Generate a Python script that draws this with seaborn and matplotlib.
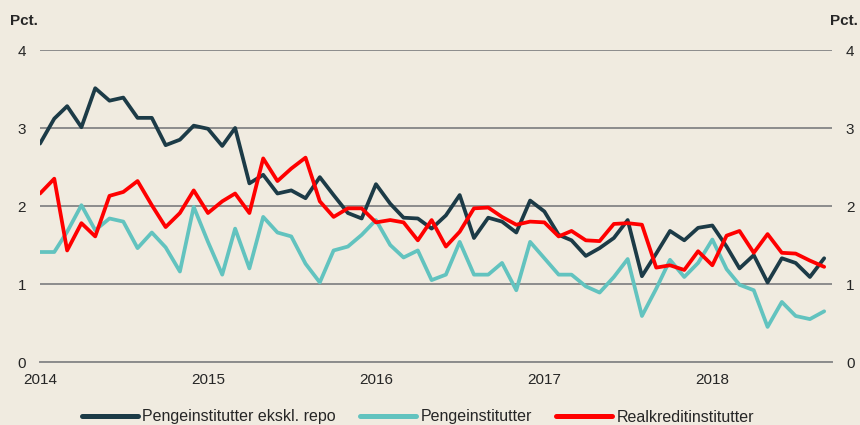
import pandas as pd
import matplotlib
matplotlib.use('Agg')
import matplotlib.pyplot as plt
import seaborn as sns

# Data (monthly, Jan 2014 - Sep 2018), pct.
months = pd.date_range('2014-01-01', periods=57, freq='MS')

ekskl_repo = [2.80, 3.12, 3.28, 3.01, 3.51, 3.35, 3.39, 3.13, 3.13, 2.78, 2.85, 3.03,
              2.99, 2.77, 3.00, 2.29, 2.40, 2.16, 2.20, 2.10, 2.37, 2.14, 1.91, 1.84,
              2.28, 2.03, 1.85, 1.84, 1.71, 1.88, 2.14, 1.59, 1.85, 1.80, 1.66, 2.07,
              1.93, 1.63, 1.56, 1.36, 1.46, 1.59, 1.82, 1.10, 1.39, 1.68, 1.56, 1.72,
              1.75, 1.48, 1.20, 1.37, 1.02, 1.33, 1.27, 1.09, 1.33]

penge = [1.41, 1.41, 1.67, 2.01, 1.69, 1.84, 1.80, 1.46, 1.66, 1.47, 1.16, 1.99,
         1.54, 1.12, 1.71, 1.20, 1.86, 1.66, 1.61, 1.26, 1.02, 1.43, 1.48, 1.63,
         1.82, 1.50, 1.34, 1.43, 1.05, 1.12, 1.54, 1.12, 1.12, 1.27, 0.92, 1.54,
         1.33, 1.12, 1.12, 0.97, 0.89, 1.09, 1.32, 0.59, 0.94, 1.31, 1.09, 1.27,
         1.57, 1.19, 0.99, 0.92, 0.45, 0.77, 0.59, 0.55, 0.65]

realkredit = [2.16, 2.35, 1.43, 1.78, 1.61, 2.13, 2.18, 2.32, 2.01, 1.73, 1.91, 2.20,
              1.91, 2.06, 2.16, 1.91, 2.61, 2.32, 2.48, 2.62, 2.06, 1.86, 1.97, 1.97,
              1.79, 1.82, 1.79, 1.56, 1.82, 1.48, 1.67, 1.97, 1.98, 1.86, 1.76, 1.80,
              1.79, 1.61, 1.68, 1.56, 1.55, 1.77, 1.78, 1.76, 1.21, 1.24, 1.18, 1.42,
              1.24, 1.62, 1.68, 1.40, 1.64, 1.40, 1.39, 1.30, 1.22]

series_names = ['Pengeinstitutter ekskl. repo', 'Pengeinstitutter', 'Realkreditinstitutter']
colors = ['#1C3B47', '#62C3BF', '#FF0000']
y_ticks = [0, 1, 2, 3, 4]
year_ticks = ['2014', '2015', '2016', '2017', '2018']

df = pd.DataFrame({'dato': months,
                   series_names[0]: ekskl_repo,
                   series_names[1]: penge,
                   series_names[2]: realkredit})
long = df.melt(id_vars='dato', var_name='serie', value_name='pct')

bg = '#F0EBE0'
sns.set_style('white')
plt.rcParams['font.family'] = ['Liberation Sans', 'DejaVu Sans']

fig = plt.figure(figsize=(8.6, 4.25), dpi=100, facecolor=bg)
ax = fig.add_axes([40 / 860, 1 - 362 / 425, 792 / 860, 312 / 425])
ax.set_facecolor(bg)

sns.lineplot(data=long, x='dato', y='pct', hue='serie', hue_order=series_names,
             palette=colors, linewidth=2.7, ax=ax, legend=False)

ax.set_ylim(0, 4)
ax.set_xlim(pd.Timestamp('2014-01-01'), pd.Timestamp('2018-09-18'))
ax.set_yticks(y_ticks)
ax.set_xticks([pd.Timestamp(y + '-01-01') for y in year_ticks])
ax.set_xticklabels(year_ticks)
ax.grid(axis='y', color='#8C8C8C', linewidth=1.4)
ax.set_axisbelow(True)
for s in ['top', 'right', 'left']:
    ax.spines[s].set_visible(False)
ax.spines['bottom'].set_color('#8C8C8C')
ax.spines['bottom'].set_linewidth(1.4)
ax.tick_params(axis='x', length=5, width=1.2, color='#8C8C8C', labelsize=11, pad=3)
ax.tick_params(axis='y', length=0, labelsize=11, pad=10, labelleft=True, labelright=True)
ax.set_xlabel('')
ax.set_ylabel('')

fig.text(10 / 860, 1 - 21 / 425, 'Pct.', fontsize=11, fontweight='bold', va='center', ha='left')
fig.text(858 / 860, 1 - 21 / 425, 'Pct.', fontsize=11, fontweight='bold', va='center', ha='right')

handles = [plt.Line2D([], [], color=c, linewidth=3.6, solid_capstyle='round') for c in colors]
fig.legend(handles, series_names, loc='center', bbox_to_anchor=(0.486, 1 - 417 / 425),
           ncol=3, frameon=False, fontsize=11.5, handlelength=3.5, handletextpad=0.3,
           columnspacing=1.5, borderpad=0)

fig.savefig('out.png', dpi=100, facecolor=bg)
